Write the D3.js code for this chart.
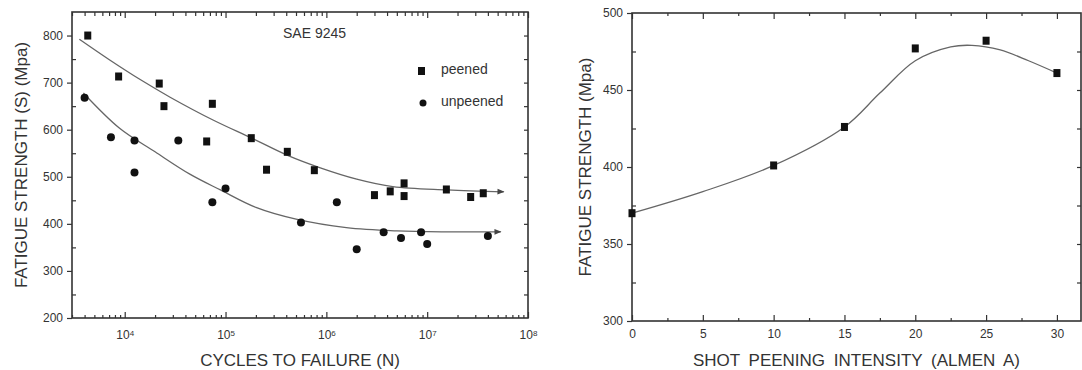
<!DOCTYPE html>
<meta charset="utf-8">
<style>
body { margin: 0; background: #fff; }
svg { font-family: "Liberation Sans", Arial, sans-serif; }
.axis path, .axis line { stroke: #333; }
.axis path { stroke-width: 1.6px; }
.axis line { stroke-width: 1.2px; }
.axis text { fill: #333; font-size: 12px; }
.title { fill: #333; font-size: 17px; }
.fit { fill: none; stroke: #666; stroke-width: 1.3px; }
</style>
<svg width="1082" height="370"></svg>
<script src="https://cdn.jsdelivr.net/npm/d3@7"></script>
<script>

// left chart: S-N data, SAE 9245
var peenedN = [4300, 8700, 22000, 24500, 65000, 74000, 180000, 255000, 410000, 760000,
               3.0e6, 4.3e6, 5.9e6, 5.9e6, 1.55e7, 2.7e7, 3.6e7];
var peenedS = [800, 713, 698, 650, 575, 655, 582, 515, 553, 514,
               461, 469, 486, 459, 473, 457, 465];
var unpeenedN = [4000, 7300, 12500, 12500, 34000, 74000, 100000, 560000, 1.27e6, 2.0e6,
                 3.7e6, 5.5e6, 8.7e6, 1.0e7, 4.0e7];
var unpeenedS = [668, 584, 577, 509, 577, 446, 475, 403, 446, 346,
                 382, 370, 382, 357, 374];

// fitted curves
var peenedFitN = [3550, 7100, 14100, 28200, 76000, 182000, 407000, 871000, 2.0e6, 4.57e6, 1.58e7, 5.75e7];
var peenedFitS = [792, 748, 707, 669, 620, 582, 546, 519, 495, 479, 472, 468];
var unpeenedFitN = [3890, 8900, 20000, 44700, 89000, 200000, 501000, 1.58e6, 5.0e6, 1.58e7, 5.37e7];
var unpeenedFitS = [678, 603, 553, 505, 472, 435, 410, 392, 385, 383, 383];

var decades = [1e4, 1e5, 1e6, 1e7, 1e8];
var stressTicks = [200, 300, 400, 500, 600, 700, 800];

// right chart: fatigue strength vs Almen intensity
var almen = [0, 10, 15, 20, 25, 30];
var strength = [370, 401, 426, 477, 482, 461];
var almenFit = [0, 5, 10, 15, 17.5, 20, 22.5, 24, 26, 28, 30];
var strengthFit = [370, 384, 401, 426, 448, 469, 478, 479, 476, 469, 461];
var almenTicks = [0, 5, 10, 15, 20, 25, 30];
var strengthTicks = [300, 350, 400, 450, 500];

var svg = d3.select("svg");

svg.append("defs").append("marker")
    .attr("id", "arrow")
    .attr("viewBox", "0 0 10 10")
    .attr("refX", 9).attr("refY", 5)
    .attr("markerWidth", 9).attr("markerHeight", 7)
    .attr("markerUnits", "userSpaceOnUse")
    .attr("orient", "auto")
  .append("path")
    .attr("d", "M0,1L10,5L0,9Z")
    .attr("fill", "#444");

// ---------- left chart ----------
var L = {left: 72, right: 528, top: 12, bottom: 318};

var x1 = d3.scaleLog().domain([3000, 1e8]).range([L.left, L.right]);
var y1 = d3.scaleLinear().domain([200, 850]).range([L.bottom, L.top]);

var minorLog = [];
[1e3, 1e4, 1e5, 1e6, 1e7].forEach(function(d) {
  for (var i = 2; i <= 9; i++) if (d * i >= 3000 && d * i <= 1e8) minorLog.push(d * i);
});

var g1 = svg.append("g");

// bottom
g1.append("g").attr("class", "axis")
    .attr("transform", "translate(0," + L.bottom + ")")
    .call(d3.axisBottom(x1).tickValues(minorLog).tickSize(-3).tickFormat(""));
var bx = g1.append("g").attr("class", "axis")
    .attr("transform", "translate(0," + L.bottom + ")")
    .call(d3.axisBottom(x1).tickValues(decades).tickSize(-6).tickPadding(12));
bx.selectAll(".tick text").text(null).each(function(d) {
  var t = d3.select(this);
  t.append("tspan").text("10");
  t.append("tspan").attr("dy", "-0.35em").style("font-size", "8px").text(Math.round(Math.log10(d)));
});

// top
g1.append("g").attr("class", "axis")
    .attr("transform", "translate(0," + L.top + ")")
    .call(d3.axisTop(x1).tickValues(minorLog).tickSize(-4).tickFormat(""));
g1.append("g").attr("class", "axis")
    .attr("transform", "translate(0," + L.top + ")")
    .call(d3.axisTop(x1).tickValues(decades).tickSize(-6).tickFormat(""));

// left
g1.append("g").attr("class", "axis")
    .attr("transform", "translate(" + L.left + ",0)")
    .call(d3.axisLeft(y1).tickValues(stressTicks).tickSize(5).tickPadding(4));
g1.append("g").attr("class", "axis")
    .attr("transform", "translate(" + L.left + ",0)")
    .call(d3.axisLeft(y1).tickValues(d3.range(250, 850, 100)).tickSize(-4).tickFormat(""));

// right
g1.append("g").attr("class", "axis")
    .attr("transform", "translate(" + L.right + ",0)")
    .call(d3.axisRight(y1).tickValues(d3.range(250, 850, 50)).tickSize(-4).tickFormat(""));
g1.selectAll(".domain").remove();

g1.append("rect")
    .attr("x", L.left).attr("y", L.top)
    .attr("width", L.right - L.left).attr("height", L.bottom - L.top)
    .attr("fill", "none").attr("stroke", "#333").attr("stroke-width", 1.6);

var line1 = d3.line().curve(d3.curveCatmullRom)
    .x(function(d) { return x1(d[0]); })
    .y(function(d) { return y1(d[1]); });

g1.append("path").attr("class", "fit")
    .attr("d", line1(d3.zip(peenedFitN, peenedFitS)))
    .attr("marker-end", "url(#arrow)");
g1.append("path").attr("class", "fit")
    .attr("d", line1(d3.zip(unpeenedFitN, unpeenedFitS)))
    .attr("marker-end", "url(#arrow)");

g1.selectAll(".sq").data(d3.zip(peenedN, peenedS)).enter().append("rect")
    .attr("x", function(d) { return x1(d[0]) - 3.5; })
    .attr("y", function(d) { return y1(d[1]) - 4; })
    .attr("width", 7).attr("height", 8)
    .attr("fill", "#111");
g1.selectAll(".ci").data(d3.zip(unpeenedN, unpeenedS)).enter().append("circle")
    .attr("cx", function(d) { return x1(d[0]); })
    .attr("cy", function(d) { return y1(d[1]); })
    .attr("r", 4)
    .attr("fill", "#111");

g1.append("text").attr("class", "title").style("font-size", "14px")
    .attr("x", 283).attr("y", 38).text("SAE 9245");
g1.append("rect").attr("x", 418).attr("y", 67).attr("width", 7).attr("height", 8).attr("fill", "#111");
g1.append("text").attr("class", "title").style("font-size", "14px")
    .attr("x", 441).attr("y", 74).text("peened");
g1.append("circle").attr("cx", 423).attr("cy", 103).attr("r", 3.5).attr("fill", "#111");
g1.append("text").attr("class", "title").style("font-size", "14px")
    .attr("x", 441).attr("y", 106).text("unpeened");

g1.append("text").attr("class", "title")
    .attr("x", (L.left + L.right) / 2).attr("y", 366)
    .attr("text-anchor", "middle")
    .text("CYCLES TO FAILURE (N)");
g1.append("text").attr("class", "title")
    .attr("transform", "translate(27," + (L.top + L.bottom) / 2 + ") rotate(-90)")
    .attr("text-anchor", "middle")
    .text("FATIGUE STRENGTH (S) (Mpa)");

// ---------- right chart ----------
var R = {left: 632, right: 1081, top: 13, bottom: 321};

var x2 = d3.scaleLinear().domain([0, 31.7]).range([R.left, R.right]);
var y2 = d3.scaleLinear().domain([300, 500]).range([R.bottom, R.top]);

var g2 = svg.append("g");

g2.append("g").attr("class", "axis")
    .attr("transform", "translate(0," + R.bottom + ")")
    .call(d3.axisBottom(x2).tickValues(almenTicks).tickSize(-6).tickPadding(8));
g2.append("g").attr("class", "axis")
    .attr("transform", "translate(0," + R.bottom + ")")
    .call(d3.axisBottom(x2).tickValues(d3.range(2.5, 31, 5)).tickSize(-3).tickFormat(""));
g2.append("g").attr("class", "axis")
    .attr("transform", "translate(0," + R.top + ")")
    .call(d3.axisTop(x2).tickValues(almenTicks).tickSize(-6).tickFormat(""));
g2.append("g").attr("class", "axis")
    .attr("transform", "translate(0," + R.top + ")")
    .call(d3.axisTop(x2).tickValues(d3.range(2.5, 31, 5)).tickSize(-3).tickFormat(""));
g2.append("g").attr("class", "axis")
    .attr("transform", "translate(" + R.left + ",0)")
    .call(d3.axisLeft(y2).tickValues(strengthTicks).tickSize(5).tickPadding(4));
g2.append("g").attr("class", "axis")
    .attr("transform", "translate(" + R.left + ",0)")
    .call(d3.axisLeft(y2).tickValues(d3.range(325, 500, 50)).tickSize(-4).tickFormat(""));
g2.append("g").attr("class", "axis")
    .attr("transform", "translate(" + R.right + ",0)")
    .call(d3.axisRight(y2).tickValues(d3.range(325, 500, 25)).tickSize(-4).tickFormat(""));
g2.selectAll(".domain").remove();

g2.append("rect")
    .attr("x", R.left).attr("y", R.top)
    .attr("width", R.right - R.left).attr("height", R.bottom - R.top)
    .attr("fill", "none").attr("stroke", "#333").attr("stroke-width", 1.6);

var line2 = d3.line().curve(d3.curveCatmullRom)
    .x(function(d) { return x2(d[0]); })
    .y(function(d) { return y2(d[1]); });

g2.append("path").attr("class", "fit")
    .attr("d", line2(d3.zip(almenFit, strengthFit)));

g2.selectAll(".sq").data(d3.zip(almen, strength)).enter().append("rect")
    .attr("x", function(d) { return x2(d[0]) - 3.5; })
    .attr("y", function(d) { return y2(d[1]) - 4; })
    .attr("width", 7).attr("height", 8)
    .attr("fill", "#111");

g2.append("text").attr("class", "title")
    .attr("x", (R.left + R.right) / 2).attr("y", 366)
    .attr("text-anchor", "middle")
    .style("word-spacing", "4px")
    .text("SHOT PEENING INTENSITY (ALMEN A)");
g2.append("text").attr("class", "title")
    .attr("transform", "translate(591," + (R.top + R.bottom) / 2 + ") rotate(-90)")
    .attr("text-anchor", "middle")
    .text("FATIGUE STRENGTH (Mpa)");

</script>
